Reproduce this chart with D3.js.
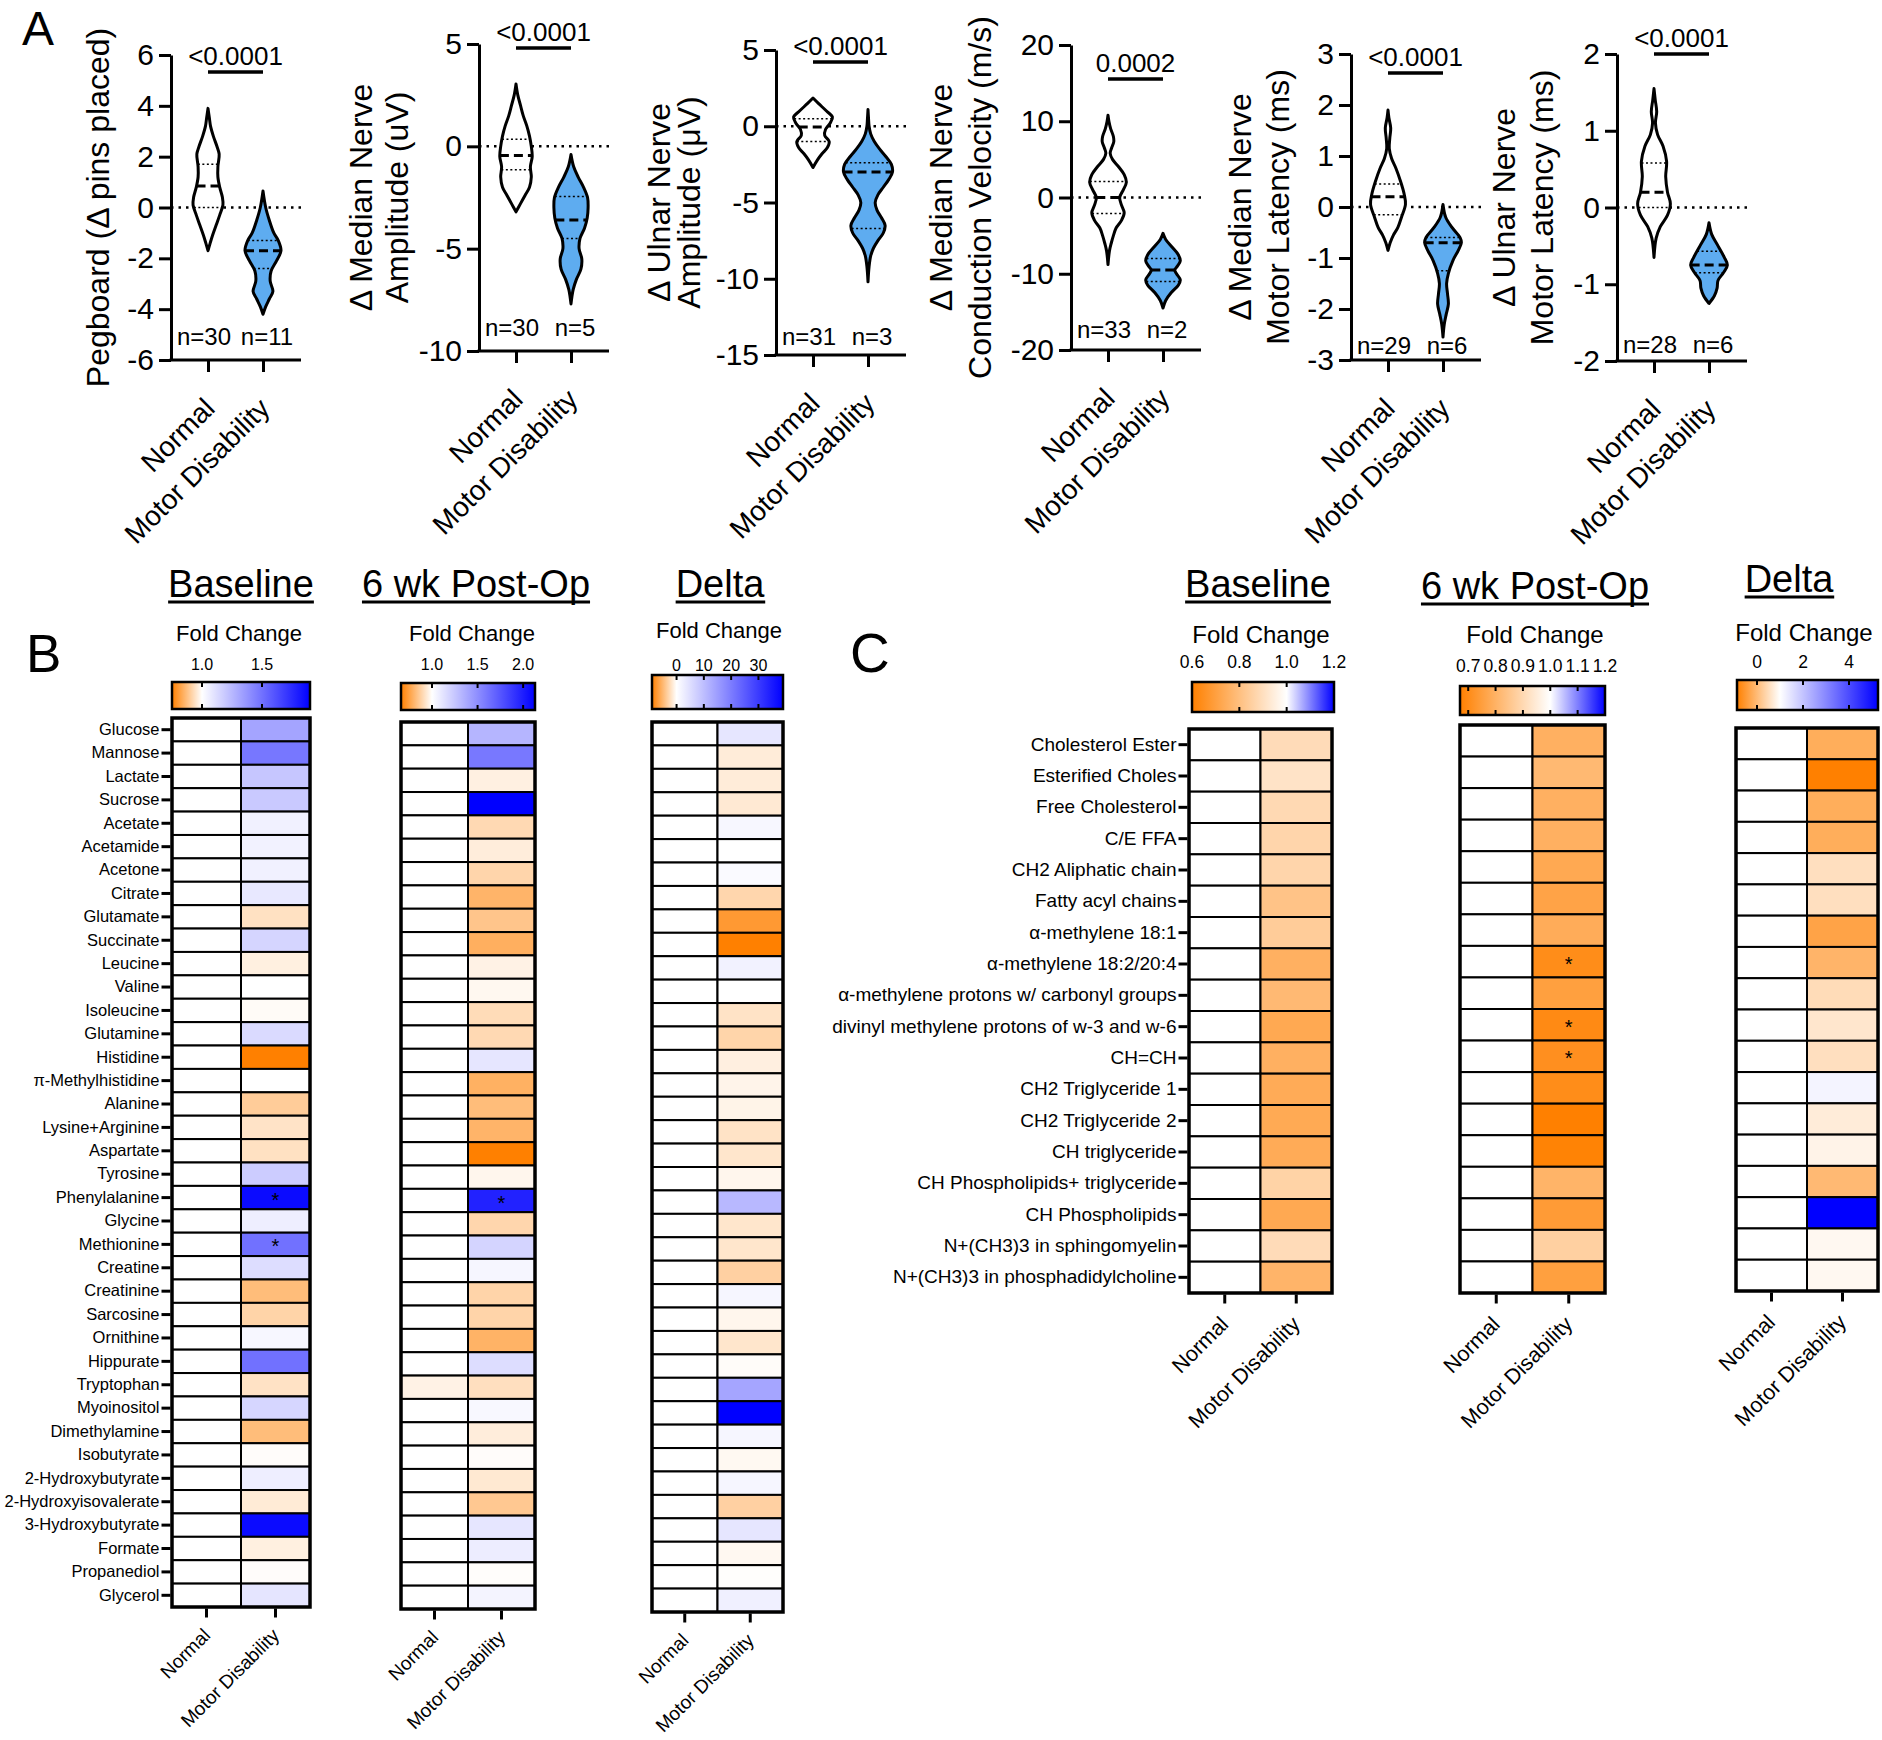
<!DOCTYPE html>
<html lang="en">
<head>
<meta charset="utf-8" />
<title>Motor disability figure</title>
<script src="https://cdn.jsdelivr.net/npm/d3@7"></script>
<style>
  body { margin: 0; background: #fff; }
  svg { display: block; }
</style>
</head>
<body>
<script>
// ---------- Panel A data (violins) ----------
var groups = ["Normal", "Motor Disability"];
var axisTitles = [
  ["Pegboard (\u0394 pins placed)"],
  ["\u0394 Median Nerve", "Amplitude (uV)"],
  ["\u0394 Ulnar Nerve", "Amplitude (\u03bcV)"],
  ["\u0394 Median Nerve", "Conduction Velocity (m/s)"],
  ["\u0394 Median Nerve", "Motor Latency  (ms)"],
  ["\u0394 Ulnar Nerve", "Motor Latency  (ms)"]
];
var yDomains = [[-6, 6], [-10, 5], [-15, 5], [-20, 20], [-3, 3], [-2, 2]];
var yTicks = [
  [-6, -4, -2, 0, 2, 4, 6],
  [-10, -5, 0, 5],
  [-15, -10, -5, 0, 5],
  [-20, -10, 0, 10, 20],
  [-3, -2, -1, 0, 1, 2, 3],
  [-2, -1, 0, 1, 2]
];
var pValues = ["<0.0001", "<0.0001", "<0.0001", "0.0002", "<0.0001", "<0.0001"];
var nCounts = [[30, 11], [30, 5], [31, 3], [33, 2], [29, 6], [28, 6]];

// violin outlines: [value, relative half width]
var normalProfiles = [
  [[3.9,0],[3.5,0.08],[3.2,0.14],[2.8,0.3],[2.4,0.5],[2.1,0.62],[1.6,0.55],[1.2,0.55],[0.8,0.65],[0.4,0.8],[0.1,0.83],[-0.3,0.65],[-0.7,0.45],[-1.1,0.25],[-1.4,0.12],[-1.7,0]],
  [[3.05,0],[2.5,0.1],[2,0.25],[1.5,0.4],[1,0.6],[0.5,0.75],[0,0.85],[-0.5,0.9],[-1,0.8],[-1.5,0.85],[-2,0.75],[-2.4,0.5],[-2.8,0.25],[-3.2,0]],
  [[1.85,0],[1.5,0.3],[1,0.75],[0.6,1.08],[0.2,0.95],[-0.2,0.7],[-0.6,0.65],[-1,0.9],[-1.4,0.8],[-1.8,0.5],[-2.2,0.25],[-2.7,0]],
  [[10.8,0],[10,0.05],[9,0.15],[8,0.3],[7.3,0.32],[6.5,0.2],[5.8,0.12],[5,0.25],[4,0.6],[3,0.9],[2,1.02],[1,0.85],[0,0.65],[-1,0.75],[-2,0.9],[-3,0.75],[-4,0.45],[-5,0.3],[-6,0.18],[-7,0.08],[-8.8,0]],
  [[1.9,0],[1.75,0.05],[1.55,0.15],[1.35,0.1],[1.15,0.07],[0.95,0.2],[0.75,0.45],[0.5,0.7],[0.25,0.9],[0.05,0.97],[-0.2,0.75],[-0.4,0.55],[-0.55,0.3],[-0.7,0.12],[-0.85,0]],
  [[1.55,0],[1.4,0.07],[1.25,0.15],[1.1,0.08],[0.95,0.2],[0.8,0.5],[0.6,0.7],[0.4,0.65],[0.2,0.75],[0.05,0.91],[-0.1,0.75],[-0.25,0.35],[-0.4,0.12],[-0.65,0]]
];
var disabilityProfiles = [
  [[0.65,0],[0,0.15],[-0.5,0.35],[-1,0.6],[-1.3,0.85],[-1.7,1],[-2.1,0.75],[-2.5,0.45],[-2.9,0.4],[-3.3,0.55],[-3.6,0.35],[-3.9,0.15],[-4.2,0]],
  [[-0.4,0],[-1,0.15],[-1.5,0.4],[-2,0.7],[-2.5,0.92],[-3,0.95],[-3.5,0.9],[-4,0.75],[-4.5,0.5],[-5,0.45],[-5.5,0.6],[-6,0.55],[-6.5,0.3],[-7,0.12],[-7.7,0]],
  [[1.1,0],[0.5,0.03],[0,0.06],[-0.5,0.15],[-1,0.35],[-1.5,0.65],[-2,1],[-2.5,1.3],[-3,1.36],[-3.5,1.15],[-4,0.85],[-4.5,0.55],[-5,0.4],[-5.5,0.5],[-6,0.75],[-6.5,0.95],[-7,0.85],[-7.5,0.55],[-8,0.3],[-8.5,0.15],[-9.2,0.06],[-10.2,0]],
  [[-4.7,0],[-5.5,0.15],[-6.5,0.5],[-7.5,0.85],[-8.3,0.96],[-9,0.8],[-9.5,0.65],[-10,0.75],[-10.8,0.96],[-11.5,0.85],[-12.5,0.45],[-13.5,0.15],[-14.5,0]],
  [[0.05,0],[-0.2,0.15],[-0.4,0.5],[-0.6,0.95],[-0.7,1.02],[-0.85,0.85],[-1.05,0.55],[-1.3,0.3],[-1.5,0.2],[-1.7,0.25],[-1.9,0.3],[-2.1,0.18],[-2.3,0.07],[-2.55,0]],
  [[-0.2,0],[-0.35,0.15],[-0.5,0.5],[-0.65,0.85],[-0.75,1.02],[-0.85,0.8],[-0.95,0.5],[-1.05,0.45],[-1.15,0.3],[-1.25,0]]
];
// [median, upper quartile, lower quartile]
var normalStats = [[0.85,1.7,0],[-0.45,0.35,-1.15],[-0.05,0.5,-1.0],[0,2.1,-2.1],[0.2,0.45,-0.15],[0.2,0.58,0]];
var disabilityStats = [[-1.7,-1.3,-2.4],[-3.6,-2.45,-4.5],[-3.0,-2.4,-6.7],[-9.5,-8,-11],[-0.7,-0.6,-1.25],[-0.75,-0.57,-0.85]];

// ---------- Panel B data (metabolites) ----------
var metabolites = ["Glucose","Mannose","Lactate","Sucrose","Acetate","Acetamide","Acetone","Citrate","Glutamate","Succinate",
  "Leucine","Valine","Isoleucine","Glutamine","Histidine","\u03c0-Methylhistidine","Alanine","Lysine+Arginine","Aspartate","Tyrosine",
  "Phenylalanine","Glycine","Methionine","Creatine","Creatinine","Sarcosine","Ornithine","Hippurate","Tryptophan","Myoinositol",
  "Dimethylamine","Isobutyrate","2-Hydroxybutyrate","2-Hydroxyisovalerate","3-Hydroxybutyrate","Formate","Propanediol","Glycerol"];
var bBaseNormal = [1,1,1,1,1,1,1,1,1,1, 1,1,1,1,1,1,1,1,1,1, 1,1,1,1,1,1,1,1,1,1, 1,1,1,1,1,1,1,1];
var bBaseMD = [1.32,1.48,1.2,1.19,1.05,1.045,1.05,1.08,0.94,1.15, 0.97,1.0,0.992,1.13,0.75,1.0,0.9,0.945,0.94,1.18,
  1.86,1.06,1.5,1.12,0.87,0.915,1.03,1.5,0.943,1.145, 0.87,0.995,1.06,0.96,1.86,0.97,0.995,1.09];
var b6Normal = [1,1,1,1,1,1,1,1,1,1, 1,1,1,1,1,1,1,1,1,1, 1,1,1,1,1,1,1,1,0.966,1, 1,1,1,1,1,1,1,1];
var b6MD = [1.33,1.6,0.96,2.13,0.898,0.952,0.888,0.8,0.845,0.786, 0.966,0.98,0.905,0.898,1.11,0.79,0.823,0.8,0.66,0.976,
  1.98,0.89,1.19,1.04,0.885,0.885,0.796,1.15,0.915,1.03, 0.952,0.993,0.94,0.854,1.11,1.08,0.995,1.05];
var bDeltaNormal = [0,0,0,0,0,0,0,0,0,0, 0,0,0,0,0,0,0,0,0,0, 0,0,0,0,0,0,0,0,0,0, 0,0,0,0,0,0,0,0];
var bDeltaMD = [3.9,-1.35,-1.35,-1.55,1.2,0,0.8,-2.9,-7.2,-9, 2,0,-2,-3,-1.1,-0.75,-0.8,-2,-1.8,-0.65,
  10.9,-1.8,-1.8,-3.3,1.4,-0.65,-1.8,-0.2,13.7,39, 1.4,-0.45,1.4,-3.3,3.9,-0.5,-0.1,2.3];
var bBaseStars = ["Phenylalanine", "Methionine"];
var b6Stars = ["Phenylalanine"];
var bBaseTicks = [1.0, 1.5];
var b6Ticks = [1.0, 1.5, 2.0];
var bDeltaTicks = [0, 10, 20, 30];

// ---------- Panel C data (lipids) ----------
var lipids = ["Cholesterol Ester","Esterified Choles","Free Cholesterol","C/E FFA","CH2 Aliphatic chain","Fatty acyl chains",
  "\u03b1-methylene 18:1","\u03b1-methylene 18:2/20:4","\u03b1-methylene protons w/ carbonyl groups","divinyl methylene protons of w-3 and w-6",
  "CH=CH","CH2 Triglyceride 1","CH2 Triglyceride 2","CH triglyceride","CH Phospholipids+ triglyceride","CH Phospholipids",
  "N+(CH3)3 in sphingomyelin","N+(CH3)3 in phosphadidylcholine"];
var cBaseNormal = [1,1,1,1,1,1,1,1,1,1,1,1,1,1,1,1,1,1];
var cBaseMD = [0.888,0.912,0.88,0.868,0.868,0.812,0.84,0.752,0.78,0.728,0.752,0.736,0.732,0.736,0.86,0.728,0.888,0.764];
var c6Normal = [1,1,1,1,1,1,1,1,1,1,1,1,1,1,1,1,1,1];
var c6MD = [0.795,0.818,0.795,0.795,0.776,0.762,0.785,0.703,0.752,0.696,0.71,0.703,0.67,0.677,0.805,0.74,0.878,0.752];
var cDeltaNormal = [1,1,1,1,1,1,1,1,1,1,1,1,1,1,1,1,1,1];
var cDeltaMD = [-0.2,-0.87,-0.2,-0.2,0.53,0.53,-0.35,-0.1,0.48,0.63,0.53,1.19,0.72,0.83,-0.03,5.26,0.9,0.9];
var c6Stars = ["\u03b1-methylene 18:2/20:4", "divinyl methylene protons of w-3 and w-6", "CH=CH"];
var cBaseTicks = [0.6, 0.8, 1.0, 1.2];
var c6Ticks = [0.7, 0.8, 0.9, 1.0, 1.1, 1.2];
var cDeltaTicks = [0, 2, 4];

// ---------- drawing ----------
var FONT = '"Liberation Sans", Arial, Helvetica, sans-serif';
var svg = d3.select("body").append("svg")
  .attr("width", 1882).attr("height", 1740)
  .attr("font-family", FONT);

svg.append("text").attr("x", 22).attr("y", 45).attr("font-size", 48).text("A");
svg.append("text").attr("x", 26).attr("y", 672).attr("font-size", 53).text("B");
svg.append("text").attr("x", 850).attr("y", 672).attr("font-size", 55).text("C");

// layout of the six violin plots
var panelA = [
  { x: 171, top: 55, bottom: 360, sigY: 72, nLift: 15, titleX: [98] },
  { x: 479, top: 44, bottom: 351, sigY: 48, nLift: 15, titleX: [361, 397] },
  { x: 776, top: 50, bottom: 355, sigY: 62, nLift: 10, titleX: [659, 689] },
  { x: 1071, top: 45, bottom: 350, sigY: 79, nLift: 12, titleX: [941, 980] },
  { x: 1351, top: 54, bottom: 360, sigY: 73, nLift: 6, titleX: [1240, 1278] },
  { x: 1617, top: 54, bottom: 361, sigY: 54, nLift: 8, titleX: [1504, 1542] }
];

function widthAt(profile, v) {
  for (var k = 0; k < profile.length - 1; k++) {
    var a = profile[k], b = profile[k + 1];
    if (v <= a[0] && v >= b[0]) {
      var t = (a[0] - v) / (a[0] - b[0]);
      return a[1] + t * (b[1] - a[1]);
    }
  }
  return 0;
}

panelA.forEach(function (L, i) {
  var g = svg.append("g");
  var y = d3.scaleLinear().domain(yDomains[i]).range([L.bottom, L.top]);
  var x = d3.scalePoint().domain(groups).range([L.x + 37, L.x + 92]);
  var w = d3.scaleLinear().domain([0, 1]).range([0, 18]);
  var right = L.x + 130;

  // zero line
  g.append("line")
    .attr("x1", L.x).attr("x2", right).attr("y1", y(0)).attr("y2", y(0))
    .attr("stroke", "#000").attr("stroke-width", 2.5)
    .attr("stroke-dasharray", "2.5,5");

  // violins
  [normalProfiles[i], disabilityProfiles[i]].forEach(function (prof, j) {
    var cx = x(groups[j]);
    var area = d3.area()
      .curve(d3.curveCatmullRom)
      .y(function (d) { return y(d[0]); })
      .x0(function (d) { return cx - w(d[1]); })
      .x1(function (d) { return cx + w(d[1]); });
    g.append("path").datum(prof)
      .attr("d", area)
      .attr("fill", j ? "#5eacf0" : "#fff")
      .attr("stroke", "#000").attr("stroke-width", 3)
      .attr("stroke-linejoin", "round");

    var st = j ? disabilityStats[i] : normalStats[i];
    st.forEach(function (v, k) {
      var hw = w(widthAt(prof, v));
      g.append("line")
        .attr("x1", cx - hw).attr("x2", cx + hw).attr("y1", y(v)).attr("y2", y(v))
        .attr("stroke", "#000")
        .attr("stroke-width", k === 0 ? 3 : 1.5)
        .attr("stroke-dasharray", k === 0 ? "9,5" : "2,2.5");
    });
  });

  // y axis
  var ya = g.append("g").attr("transform", "translate(" + L.x + ",0)")
    .call(d3.axisLeft(y).tickValues(yTicks[i]).tickSize(12).tickSizeOuter(0).tickPadding(5)
      .tickFormat(function (d) { return String(d); }));
  ya.attr("font-family", FONT).attr("font-size", 30);
  ya.select(".domain").attr("stroke-width", 3);
  ya.selectAll(".tick line").attr("stroke-width", 3);

  // x axis
  g.append("line").attr("x1", L.x - 1.5).attr("x2", right).attr("y1", L.bottom).attr("y2", L.bottom)
    .attr("stroke", "#000").attr("stroke-width", 3);
  var xa = g.append("g").attr("transform", "translate(0," + L.bottom + ")")
    .call(d3.axisBottom(x).tickSize(12).tickSizeOuter(0));
  xa.select(".domain").remove();
  xa.attr("font-family", FONT).attr("font-size", 28);
  xa.selectAll(".tick line").attr("stroke-width", 3);
  xa.selectAll(".tick text")
    .attr("x", 0).attr("y", 0).attr("dy", 0)
    .attr("transform", "translate(8,50) rotate(-45)")
    .attr("text-anchor", "end");

  // significance
  g.append("line").attr("x1", x(groups[0])).attr("x2", x(groups[1]))
    .attr("y1", L.sigY).attr("y2", L.sigY)
    .attr("stroke", "#000").attr("stroke-width", 3.5);
  g.append("text").attr("x", (x(groups[0]) + x(groups[1])) / 2).attr("y", L.sigY - 7)
    .attr("text-anchor", "middle").attr("font-size", 26).text(pValues[i]);

  // n labels
  nCounts[i].forEach(function (n, j) {
    g.append("text").attr("x", x(groups[j]) + (j ? 4 : -4)).attr("y", L.bottom - L.nLift)
      .attr("text-anchor", "middle").attr("font-size", 24).text("n=" + n);
  });

  // axis title
  var mid = (L.top + L.bottom) / 2;
  axisTitles[i].forEach(function (t, k) {
    g.append("text")
      .attr("transform", "translate(" + L.titleX[k] + "," + mid + ") rotate(-90)")
      .attr("text-anchor", "middle").attr("dy", "0.35em")
      .attr("font-size", 32).text(t);
  });
});

// ---------- heatmaps ----------
function heatmap(cfg, rows, normalVals, mdVals, stars, dom, ticks, opt) {
  var g = svg.append("g");
  var x = d3.scaleBand().domain(groups).range([cfg.x0, cfg.x1]);
  var y = d3.scaleBand().domain(rows).range([cfg.top, cfg.bottom]);
  var color = d3.scaleLinear().domain(dom).range(["#ff8000", "#ffffff", "#0000ff"]);

  // title with underline
  var title = g.append("text").attr("x", cfg.titleX).attr("y", cfg.titleY)
    .attr("text-anchor", "middle").attr("font-size", 38).text(cfg.title);
  var bb = title.node().getBBox();
  g.append("line").attr("x1", bb.x).attr("x2", bb.x + bb.width)
    .attr("y1", cfg.titleY + 5).attr("y2", cfg.titleY + 5)
    .attr("stroke", "#000").attr("stroke-width", 3);

  g.append("text").attr("x", cfg.fcX).attr("y", cfg.fcY)
    .attr("text-anchor", "middle").attr("font-size", opt.fcFont).text("Fold Change");

  // colour bar
  var cb = d3.scaleLinear().domain([dom[0], dom[2]]).range([cfg.cbX0, cfg.cbX1]);
  var gid = "grad" + cfg.id;
  var grad = svg.append("defs").append("linearGradient").attr("id", gid)
    .attr("x1", "0%").attr("x2", "100%").attr("y1", "0%").attr("y2", "0%");
  dom.forEach(function (d) {
    grad.append("stop")
      .attr("offset", ((d - dom[0]) / (dom[2] - dom[0]) * 100) + "%")
      .attr("stop-color", color(d));
  });
  g.append("rect").attr("x", cfg.cbX0).attr("y", cfg.cbTop)
    .attr("width", cfg.cbX1 - cfg.cbX0).attr("height", cfg.cbBottom - cfg.cbTop)
    .attr("fill", "url(#" + gid + ")").attr("stroke", "#000").attr("stroke-width", 2.5);
  ticks.forEach(function (t) {
    var tx = cb(t);
    if (tx > cfg.cbX0 + 2 && tx < cfg.cbX1 - 2) {
      g.append("line").attr("x1", tx).attr("x2", tx).attr("y1", cfg.cbTop).attr("y2", cfg.cbTop + 5)
        .attr("stroke", "#000").attr("stroke-width", 2);
      g.append("line").attr("x1", tx).attr("x2", tx).attr("y1", cfg.cbBottom - 5).attr("y2", cfg.cbBottom)
        .attr("stroke", "#000").attr("stroke-width", 2);
    }
    g.append("text").attr("x", tx).attr("y", cfg.tickY)
      .attr("text-anchor", "middle").attr("font-size", opt.cbFont)
      .text(d3.format(opt.fmt)(t));
  });

  // cells
  var cells = [];
  rows.forEach(function (r, i) {
    cells.push({ row: r, group: groups[0], v: normalVals[i] });
    cells.push({ row: r, group: groups[1], v: mdVals[i] });
  });
  g.selectAll("rect.cell").data(cells).enter().append("rect")
    .attr("class", "cell")
    .attr("x", function (d) { return x(d.group); })
    .attr("y", function (d) { return y(d.row); })
    .attr("width", x.bandwidth()).attr("height", y.bandwidth())
    .attr("fill", function (d) { return color(d.v); })
    .attr("stroke", "#000").attr("stroke-width", 2);
  g.append("rect").attr("x", cfg.x0).attr("y", cfg.top)
    .attr("width", cfg.x1 - cfg.x0).attr("height", cfg.bottom - cfg.top)
    .attr("fill", "none").attr("stroke", "#000").attr("stroke-width", 3.5);

  stars.forEach(function (s) {
    g.append("text").attr("x", x(groups[1]) + x.bandwidth() / 2)
      .attr("y", y(s) + y.bandwidth() / 2 + opt.starFont * 0.45)
      .attr("text-anchor", "middle").attr("font-size", opt.starFont).text("*");
  });

  if (opt.rowLabels) {
    var ya = g.append("g").attr("transform", "translate(" + (cfg.x0 - 1.5) + ",0)")
      .call(d3.axisLeft(y).tickSize(9).tickSizeOuter(0).tickPadding(2));
    ya.select(".domain").remove();
    ya.attr("font-family", FONT).attr("font-size", opt.rowFont);
    ya.selectAll(".tick line").attr("stroke-width", 3);
  }

  var xa = g.append("g").attr("transform", "translate(0," + (cfg.bottom + 1.5) + ")")
    .call(d3.axisBottom(x).tickSize(9).tickSizeOuter(0));
  xa.select(".domain").remove();
  xa.attr("font-family", FONT).attr("font-size", opt.xFont);
  xa.selectAll(".tick line").attr("stroke-width", 3);
  xa.selectAll(".tick text")
    .attr("x", 0).attr("y", 0).attr("dy", 0)
    .attr("transform", "translate(5," + opt.xDrop + ") rotate(-45)")
    .attr("text-anchor", "end");
}

var bOpt = { rowLabels: true, rowFont: 16.5, xFont: 19, xDrop: 28, cbFont: 16, fcFont: 22, starFont: 20, fmt: ".1f" };
var cOpt = { rowLabels: true, rowFont: 19, xFont: 21.5, xDrop: 31, cbFont: 17.5, fcFont: 24, starFont: 20, fmt: ".1f" };

heatmap({ id: "bb", title: "Baseline", titleX: 241, titleY: 597, fcX: 239, fcY: 641, tickY: 670,
          x0: 172, x1: 310, top: 718, bottom: 1607, cbX0: 172, cbX1: 310, cbTop: 682, cbBottom: 709 },
  metabolites, bBaseNormal, bBaseMD, bBaseStars, [0.75, 1.0, 1.9], bBaseTicks, bOpt);

heatmap({ id: "b6", title: "6 wk Post-Op", titleX: 476, titleY: 597, fcX: 472, fcY: 641, tickY: 670,
          x0: 401, x1: 535, top: 722, bottom: 1609, cbX0: 401, cbX1: 535, cbTop: 683, cbBottom: 710 },
  metabolites, b6Normal, b6MD, b6Stars, [0.66, 1.0, 2.13], b6Ticks,
  Object.assign({}, bOpt, { rowLabels: false }));

heatmap({ id: "bd", title: "Delta", titleX: 720, titleY: 597, fcX: 719, fcY: 638, tickY: 671,
          x0: 652, x1: 783, top: 722, bottom: 1612, cbX0: 652, cbX1: 783, cbTop: 675, cbBottom: 709 },
  metabolites, bDeltaNormal, bDeltaMD, [], [-9, 0, 39], bDeltaTicks,
  Object.assign({}, bOpt, { rowLabels: false, fmt: "d" }));

heatmap({ id: "cb", title: "Baseline", titleX: 1258, titleY: 597, fcX: 1261, fcY: 643, tickY: 668,
          x0: 1189, x1: 1332, top: 729, bottom: 1293, cbX0: 1192, cbX1: 1334, cbTop: 682, cbBottom: 712 },
  lipids, cBaseNormal, cBaseMD, [], [0.6, 1.0, 1.2], cBaseTicks, cOpt);

heatmap({ id: "c6", title: "6 wk Post-Op", titleX: 1535, titleY: 599, fcX: 1535, fcY: 643, tickY: 672,
          x0: 1460, x1: 1605, top: 725, bottom: 1293, cbX0: 1460, cbX1: 1605, cbTop: 686, cbBottom: 715 },
  lipids, c6Normal, c6MD, c6Stars, [0.67, 1.0, 1.2], c6Ticks,
  Object.assign({}, cOpt, { rowLabels: false }));

heatmap({ id: "cd", title: "Delta", titleX: 1789, titleY: 592, fcX: 1804, fcY: 641, tickY: 668,
          x0: 1736, x1: 1878, top: 728, bottom: 1291, cbX0: 1737, cbX1: 1878, cbTop: 680, cbBottom: 710 },
  lipids, cDeltaNormal, cDeltaMD, [], [-0.87, 1.0, 5.26], cDeltaTicks,
  Object.assign({}, cOpt, { rowLabels: false, fmt: "d" }));
</script>
</body>
</html>
